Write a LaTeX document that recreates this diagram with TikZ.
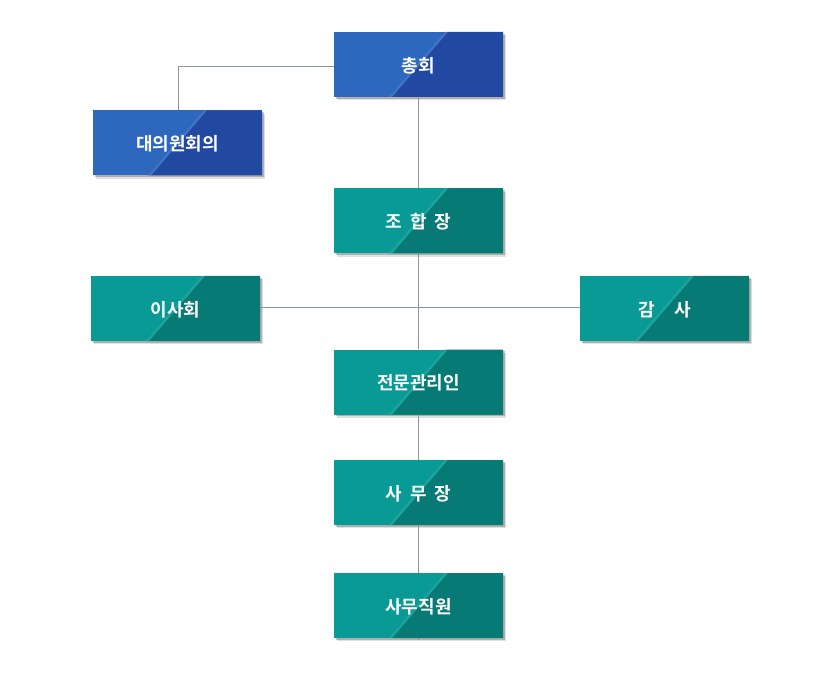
\documentclass[tikz,border=0pt]{standalone}
\usepackage{fontspec}
\newfontfamily\kr{Noto Sans CJK KR}[BoldFont={* Bold}]
\usetikzlibrary{shadows,calc}
\definecolor{bluelight}{HTML}{2E67BE}
\definecolor{bluedark}{HTML}{2249A1}
\definecolor{teallight}{HTML}{0A9A96}
\definecolor{tealdark}{HTML}{087A75}
\definecolor{linec}{HTML}{8A94A6}
\tikzset{
  x=1pt,y=-1pt,
  boxbase/.style={minimum width=169pt, minimum height=65pt, inner sep=0pt, text=white,
    font=\kr\bfseries\fontsize{18}{20}\selectfont, text height=15.5pt, text depth=0pt,
    drop shadow={shadow xshift=3.2pt, shadow yshift=-3.2pt, fill=black, opacity=0.12},
    drop shadow={shadow xshift=1.8pt, shadow yshift=-1.8pt, fill=black, opacity=0.22}},
  split/.style 2 args={fill=#1, path picture={
      \path (path picture bounding box.south west) coordinate (sw)
            (path picture bounding box.north east) coordinate (ne)
            (path picture bounding box.south east) coordinate (se)
            (path picture bounding box.north west) coordinate (nw);
      \fill[#1!92!white] ($(sw)!0.325!(se)$) -- ($(nw)!0.655!(ne)$) -- ($(nw)!0.675!(ne)$) -- ($(sw)!0.345!(se)$) -- cycle;
      \fill[#2] ($(sw)!0.345!(se)$) -- ($(nw)!0.675!(ne)$) -- (ne) -- (se) -- cycle;}},
  bluebox/.style={boxbase, split={bluelight}{bluedark}},
  tealbox/.style={boxbase, split={teallight}{tealdark}},
  conn/.style={draw=linec, line width=0.8pt}
}
\begin{document}
\begin{tikzpicture}
\useasboundingbox (0,0) rectangle (840,700);
\coordinate (c1) at (178,66);
\coordinate (bot) at (418.5,640);
\node[bluebox] (chonghoe) at (418.5,64.5) {총회};
\node[bluebox] (daeui) at (177.5,143) {대의원회의};
\node[tealbox] (johap) at (418.5,221) {조\hspace{0.45em}합\hspace{0.45em}장};
\node[tealbox] (isa) at (175.5,308.5) {이사회};
\node[tealbox] (gamsa) at (664.5,308.5) {감\hspace{1.1em}사};
\node[tealbox] (jeonmun) at (418.5,382) {전문관리인};
\node[tealbox] (samujang) at (418.5,492.5) {사\hspace{0.45em}무\hspace{0.45em}장};
\node[tealbox] (samujik) at (418.5,605.5) {사무직원};
% connectors
\draw[conn] (chonghoe.south) -- (johap.north);
\draw[conn] (johap.south) -- (jeonmun.north);
\draw[conn] (jeonmun.south) -- (samujang.north);
\draw[conn] (samujang.south) -- (samujik.north);
\draw[conn] (samujik.south) -- (bot);
\draw[conn] (isa.east |- 0,307) -- (gamsa.west |- 0,307);
\draw[conn] (chonghoe.west |- 0,66) -- (c1) -- (daeui.north -| c1);
\end{tikzpicture}
\end{document}
